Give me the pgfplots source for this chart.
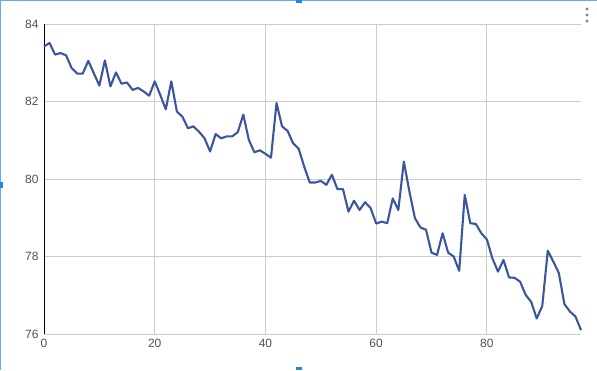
\documentclass[border=0pt]{standalone}
\usepackage{pgfplots}
\pgfplotsset{compat=1.18}
\usepackage{fontspec}
\setmainfont{Liberation Sans}
\usetikzlibrary{calc}
\definecolor{linecol}{RGB}{58,86,156}
\definecolor{gridcol}{RGB}{204,204,204}
\definecolor{labcol}{RGB}{80,80,80}
\definecolor{selcol}{RGB}{30,136,229}
\begin{document}
\begin{tikzpicture}
\begin{axis}[
  scale only axis,
  width=537pt, height=310pt,
  xmin=0, xmax=97, ymin=76, ymax=84,
  xtick={0,20,40,60,80}, ytick={76,78,80,82,84},
  major tick length=0pt,
  grid=major,
  major grid style={gridcol, line width=0.8pt},
  axis x line=bottom, axis y line=left,
  x axis line style={-, gridcol, line width=0.8pt},
  y axis line style={-, black, line width=0.9pt},
  tick label style={font=\fontsize{12}{14}\selectfont, text=labcol},
  /pgf/number format/assume math mode=true,
  yticklabel style={xshift=-2pt},
  xticklabel style={yshift=-2pt},
  clip=false,
]
\addplot[linecol, line width=2.1pt, line join=round] coordinates {
(0,83.42)(1,83.51)(2,83.21)(3,83.25)(4,83.19)(5,82.86)(6,82.72)(7,82.72)(8,83.05)(9,82.73)
(10,82.41)(11,83.06)(12,82.39)(13,82.75)(14,82.46)(15,82.49)(16,82.30)(17,82.35)(18,82.26)(19,82.15)
(20,82.52)(21,82.17)(22,81.80)(23,82.52)(24,81.74)(25,81.61)(26,81.31)(27,81.36)(28,81.22)(29,81.05)
(30,80.71)(31,81.16)(32,81.05)(33,81.10)(34,81.10)(35,81.21)(36,81.66)(37,81.01)(38,80.69)(39,80.74)
(40,80.65)(41,80.55)(42,81.96)(43,81.36)(44,81.24)(45,80.92)(46,80.78)(47,80.32)(48,79.91)(49,79.91)
(50,79.95)(51,79.85)(52,80.11)(53,79.74)(54,79.74)(55,79.16)(56,79.44)(57,79.20)(58,79.40)(59,79.25)
(60,78.85)(61,78.90)(62,78.86)(63,79.50)(64,79.20)(65,80.45)(66,79.68)(67,78.99)(68,78.75)(69,78.69)
(70,78.10)(71,78.04)(72,78.60)(73,78.10)(74,78.00)(75,77.63)(76,79.59)(77,78.86)(78,78.84)(79,78.60)
(80,78.44)(81,77.95)(82,77.61)(83,77.91)(84,77.46)(85,77.45)(86,77.35)(87,77.01)(88,76.83)(89,76.40)
(90,76.72)(91,78.15)(92,77.87)(93,77.57)(94,76.77)(95,76.58)(96,76.45)(97,76.10)
};
\end{axis}
\coordinate (bl) at ($(current axis.south west)+(-44pt,-36pt)$);
\coordinate (tr) at ($(current axis.north east)+(16pt,24pt)$);
\path[use as bounding box] (bl) rectangle (tr);
\draw[selcol!70, line width=1.2pt] ($(bl|-tr)+(0,-0.6pt)$) -- ($(tr)+(0,-0.6pt)$);
\draw[selcol!70, line width=1.2pt] ($(bl)+(0.6pt,0)$) -- ($(bl|-tr)+(0.6pt,0)$);
\fill[selcol] ($(bl|-tr)!0.5!(tr)+(-3pt,0)$) rectangle ++(6pt,-3pt);
\fill[selcol] ($(bl)!0.5!(bl|-tr)+(0,-3pt)$) rectangle ++(3pt,6pt);
\fill[selcol] ($(bl)!0.5!(tr|-bl)+(-3pt,0)$) rectangle ++(6pt,3pt);
\foreach \k in {0,1,2} \fill[gray] ($(tr)+(-10pt,-9pt-\k*6pt)$) circle (1.6pt);
\end{tikzpicture}
\end{document}
